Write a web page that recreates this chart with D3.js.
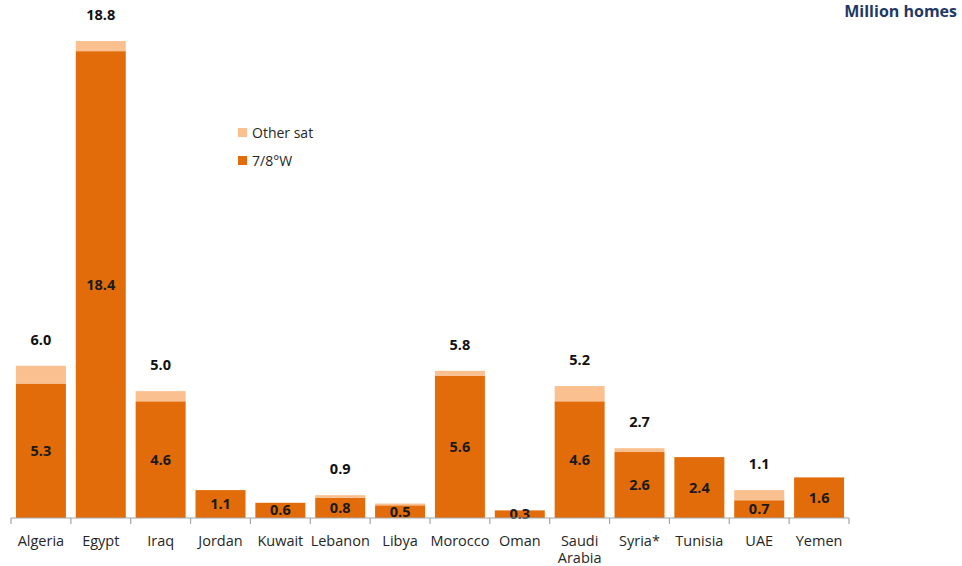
<!DOCTYPE html>
<html><head><meta charset="utf-8">
<script src="https://cdn.jsdelivr.net/npm/d3@7"></script>
<style>body{margin:0;background:#fff}svg{display:block}</style>
</head><body><svg id="c" width="962" height="566"></svg>
<script>
const categories = ["Algeria","Egypt","Iraq","Jordan","Kuwait","Lebanon","Libya","Morocco","Oman","Saudi Arabia","Syria*","Tunisia","UAE","Yemen"];
const base78W = [5.3,18.4,4.6,1.1,0.6,0.8,0.5,5.6,0.3,4.6,2.6,2.4,0.7,1.6];
const otherSat = [0.7,0.4,0.4,0,0,0.1,0.07,0.2,0,0.6,0.15,0,0.4,0];
const totalLabels = ["6.0","18.8","5.0","","","0.9","","5.8","","5.2","2.7","","1.1",""];
const seriesNames = ["Other sat","7/8°W"];
const colors = {base:"#E36C0A", other:"#FAC090"};
const FONT = "'Open Sans', sans-serif";

const svg = d3.select("#c");
const x = d3.scaleBand().domain(categories).range([11,849]).paddingInner(0.165).paddingOuter(0.0825);
const y = d3.scaleLinear().domain([0,18.8]).range([518,41]);

const data = categories.map((c,i)=>({c, b:base78W[i], o:otherSat[i], t:totalLabels[i]}));

svg.selectAll("rect.b").data(data).join("rect").attr("class","b")
  .attr("x",d=>x(d.c)).attr("width",x.bandwidth())
  .attr("y",d=>y(d.b)).attr("height",d=>y(0)-y(d.b)).attr("fill",colors.base);
svg.selectAll("rect.o").data(data.filter(d=>d.o>0)).join("rect").attr("class","o")
  .attr("x",d=>x(d.c)).attr("width",x.bandwidth())
  .attr("y",d=>y(d.b+d.o)).attr("height",d=>y(d.b)-y(d.b+d.o)).attr("fill",colors.other);

// inside labels
svg.selectAll("text.in").data(data).join("text").attr("class","in")
  .attr("x",d=>x(d.c)+x.bandwidth()/2)
  .attr("y",d=>Math.min((y(0)+y(d.b))/2, 515))
  .attr("dy","0.35em").attr("text-anchor","middle")
  .style("font-family",FONT).style("font-weight","bold").style("font-size","14.5px").attr("fill","#1a1a1a")
  .text(d=>d.b.toFixed(1));
// total labels
svg.selectAll("text.tot").data(data.filter(d=>d.t)).join("text").attr("class","tot")
  .attr("x",d=>x(d.c)+x.bandwidth()/2)
  .attr("y",d=>y(d.b+d.o)-26)
  .attr("dy","0.35em").attr("text-anchor","middle")
  .style("font-family",FONT).style("font-weight","bold").style("font-size","14.5px").attr("fill","#111")
  .text(d=>d.t);

// axis
const ax = svg.append("g").attr("transform","translate(0,518)");
ax.append("line").attr("x1",11).attr("x2",849).attr("stroke","#a6a6a6").attr("stroke-width",1.2);
const ticks = d3.range(categories.length+1).map(i=>11+i*(838/categories.length));
ax.selectAll("line.t").data(ticks).join("line").attr("class","t")
  .attr("x1",d=>d).attr("x2",d=>d).attr("y1",0).attr("y2",6).attr("stroke","#a6a6a6").attr("stroke-width",1.2);
const lab = ax.selectAll("text.cat").data(categories).join("text").attr("class","cat")
  .attr("x",d=>x(d)+x.bandwidth()/2).attr("y",28).attr("text-anchor","middle")
  .style("font-family",FONT).style("font-size","14.5px").attr("fill","#262626");
lab.each(function(d){
  const parts = d.split(" ");
  const t = d3.select(this);
  parts.forEach((p,i)=>t.append("tspan").attr("x",x(d)+x.bandwidth()/2).attr("dy",i?"1.2em":0).text(p));
});

// legend
const lg = svg.append("g");
seriesNames.forEach((n,i)=>{
  const yy = 133 + i*28;
  lg.append("rect").attr("x",238).attr("y",yy-5).attr("width",9).attr("height",9).attr("fill",i===0?colors.other:colors.base);
  lg.append("text").attr("x",252).attr("y",yy).attr("dy","0.35em")
    .style("font-family",FONT).style("font-size","14px").attr("fill","#262626").text(n);
});

// unit title
svg.append("text").attr("x",957).attr("y",17).attr("text-anchor","end")
  .style("font-family",FONT).style("font-weight","bold").style("font-size","16px").attr("fill","#1F3864")
  .text("Million homes");
</script></body></html>
